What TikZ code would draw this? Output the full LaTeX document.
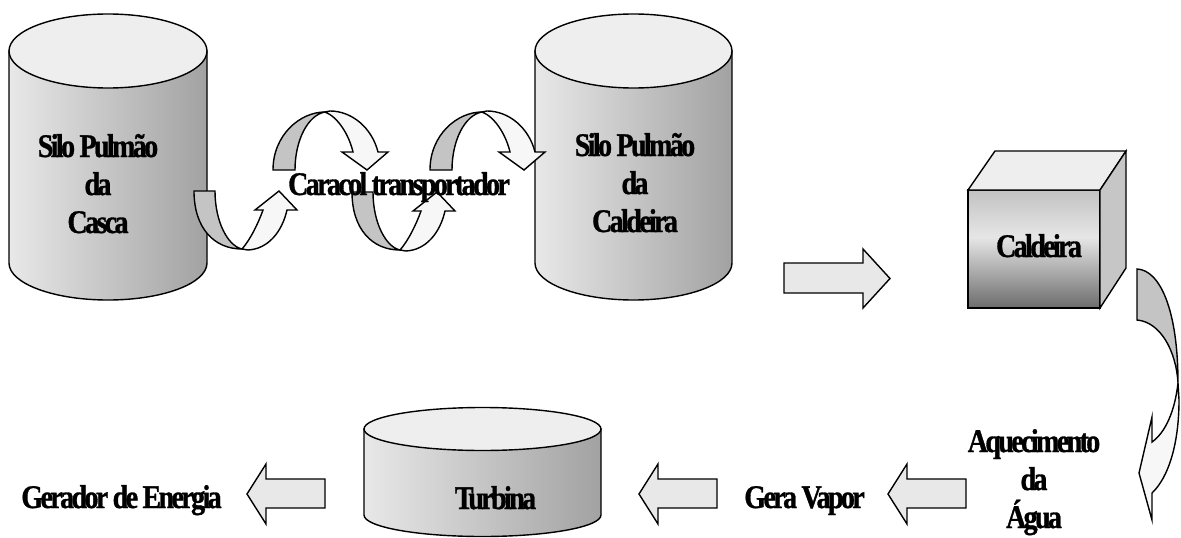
\documentclass[tikz,border=0pt]{standalone}
\usepackage{fontspec}
\newfontfamily\lblfont{Liberation Serif}[FakeStretch=0.85, LetterSpace=-8, FakeBold=1]
\definecolor{drumL}{HTML}{E8E8E8}
\definecolor{drumR}{HTML}{A2A2A2}
\definecolor{drumTop}{HTML}{EEEEEE}
\definecolor{bandBack}{HTML}{C4C4C4}
\definecolor{bandFront}{HTML}{F7F7F7}
\definecolor{blockFill}{HTML}{E8E8E8}
\definecolor{cubeTop}{HTML}{EEEEEE}
\definecolor{cubeSide}{HTML}{C6C6C6}
\definecolor{cubeDark}{HTML}{6C6C6C}
\definecolor{cubeLight}{HTML}{E6E6E6}
\definecolor{cubeHigh}{HTML}{C2C2C2}
% front face of the boiler: darker at the foot, brightest a little above the middle
\pgfdeclareverticalshading{cubefront}{100bp}{%
  color(0bp)=(cubeDark); color(25bp)=(cubeDark);
  color(55bp)=(cubeLight);
  color(75bp)=(cubeHigh); color(100bp)=(cubeHigh)}
\tikzset{
  outline/.style={draw=black, line width=1.4pt, line join=miter},
  drumside/.style={outline, left color=drumL, right color=drumR},
  drumtop/.style={outline, fill=drumTop},
  backband/.style={outline, fill=bandBack},
  frontband/.style={outline, fill=bandFront},
  blockarrow/.style={outline, fill=blockFill},
  lbl/.style={font=\lblfont\bfseries\fontsize{33}{38}\selectfont, align=center, inner sep=0pt}
}
% cylinder: name, centre x, x radius, top y, bottom y, y radius
\newcommand\drum[6]{%
  \path[drumside] ({#2-#3},#4) -- ({#2-#3},#5)
    .. controls ({#2-#3},{#5+0.5523*#6}) and ({#2-0.5523*#3},{#5+#6}) .. ({#2},{#5+#6})
    .. controls ({#2+0.5523*#3},{#5+#6}) and ({#2+#3},{#5+0.5523*#6}) .. ({#2+#3},#5)
    -- ({#2+#3},#4) -- cycle;
  \path[drumtop] (#2,#4) ellipse [x radius=#3, y radius=#6];
  \coordinate (#1) at (#2,{(#4+#5)/2});
}
% screw conveyor: U-turn rising to the right
\newcommand\turnup[2]{%
  \begin{scope}[shift={(#1,#2)}]
    \path[backband] (194,191) -- (215,191)
      .. controls (215,222) and (228,246) .. (242,249)
      .. controls (214,249) and (194,228) .. (194,191) -- cycle;
    \path[frontband] (242,249) .. controls (250,240) and (258,224) .. (263,210)
      -- (255,210) -- (279,191) -- (297,210) -- (287,210)
      .. controls (282,232) and (268,249) .. (248,250) -- cycle;
  \end{scope}}
% screw conveyor: arch falling to the right
\newcommand\turndown[2]{%
  \begin{scope}[shift={(#1,#2)}]
    \path[backband] (273,170) -- (295,170)
      .. controls (295,140) and (308,115) .. (325,112)
      .. controls (300,112) and (273,135) .. (273,170) -- cycle;
    \path[frontband] (325,112) .. controls (338,117) and (349,135) .. (353,152)
      -- (342,152) -- (367,170) -- (388,152) -- (378,152)
      .. controls (372,128) and (352,111) .. (330,111) -- cycle;
  \end{scope}}
% block arrow pointing left, tip at (#1,#2)
\newcommand\leftblock[2]{%
  \path[blockarrow] (#1,#2) -- ({#1+19},{#2-30}) -- ({#1+19},{#2-15}) -- ({#1+78},{#2-15})
    -- ({#1+78},{#2+14}) -- ({#1+19},{#2+14}) -- ({#1+19},{#2+30}) -- cycle;}
\begin{document}
\begin{tikzpicture}[x=1pt, y=-1pt]
  \useasboundingbox (0,0) rectangle (1181,538);
  \fill[white] (0,0) rectangle (1181,538);

  % storage silos and turbine
  \drum{silo1}{108}{99}{51}{263}{37}
  \drum{silo2}{633.5}{98.5}{51}{263}{37}
  \drum{turbine}{482.5}{118.5}{429}{515}{21.5}

  % boiler
  \path[outline, shading=cubefront] (968,190) rectangle (1100,308);
  \path[outline, fill=cubeTop] (968,190) -- (995,151) -- (1126,151) -- (1100,190) -- cycle;
  \path[outline, fill=cubeSide] (1100,190) -- (1126,151) -- (1126,268) -- (1100,308) -- cycle;

  % screw conveyor turns
  \turnup{0}{0}
  \turndown{0}{0}
  \turnup{158}{1}
  \turndown{157}{0}

  % silo to boiler
  \path[blockarrow] (784,263) -- (863,263) -- (863,249) -- (890,278.5) -- (863,308)
    -- (863,293) -- (784,293) -- cycle;

  % boiler down to water heating
  \path[backband] (1137,269) .. controls (1160,270) and (1178,310) .. (1178,383)
    .. controls (1176,350) and (1160,322) .. (1137,320) -- cycle;
  \path[frontband] (1178,383) .. controls (1175,410) and (1166,432) .. (1152,442)
    -- (1152,417) -- (1139,473) -- (1152,520) -- (1152,493)
    .. controls (1168,478) and (1179,445) .. (1179,400) -- cycle;

  % bottom row, right to left
  \leftblock{888}{494}
  \leftblock{639}{494}
  \leftblock{247}{494}

  % labels (multi-line labels are placed by the baseline of their last line)
  \node[lbl, anchor=base] (tsilo1) at (98,233) {Silo Pulmão\\da\\Casca};
  \node[lbl, anchor=base] (tsilo2) at (635,232) {Silo Pulmão\\da\\Caldeira};
  \node[lbl, anchor=base] (tscrew) at (399,195) {Caracol transportador};
  \node[lbl, anchor=base] (tboiler) at (1039,257) {Caldeira};
  \node[lbl, anchor=base] (tturbine) at (495.5,509) {Turbina};
  \node[lbl, anchor=base] (tgen) at (121.5,508) {Gerador de Energia};
  \node[lbl, anchor=base] (tsteam) at (804.5,508) {Gera Vapor};
  \node[lbl, anchor=base] (theat) at (1034,528) {Aquecimento\\da\\Água};
\end{tikzpicture}
\end{document}
